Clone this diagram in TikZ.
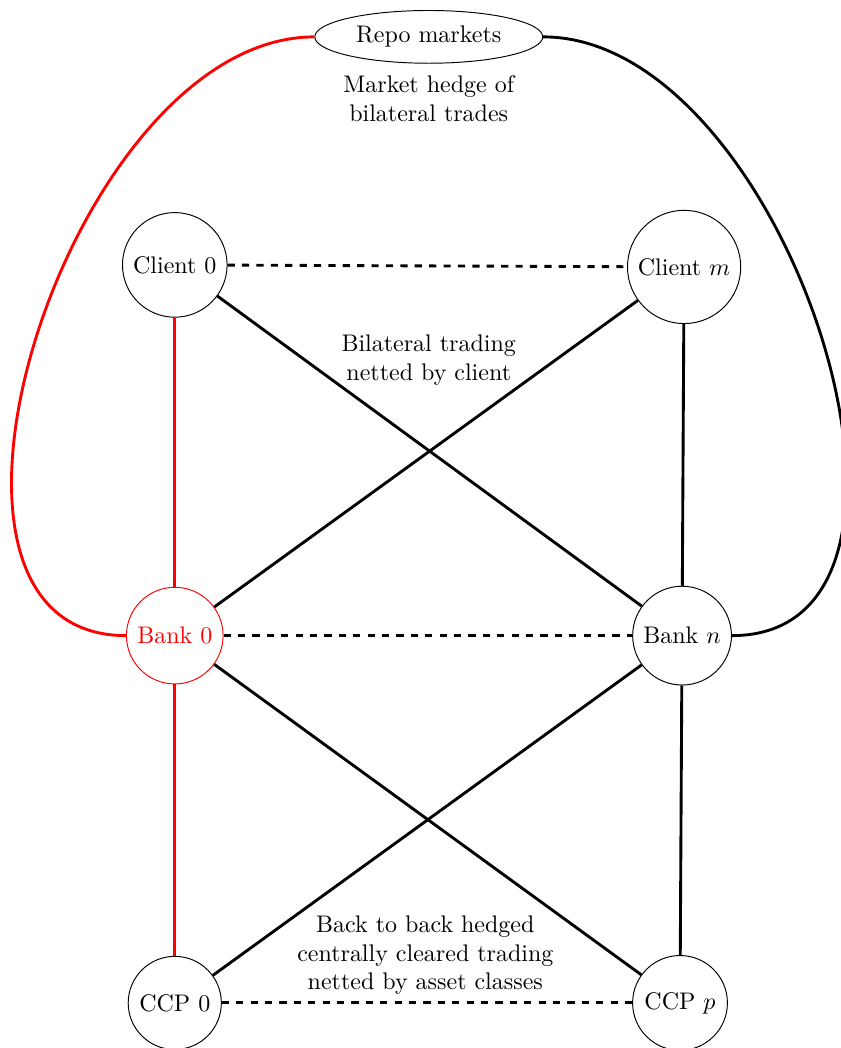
\documentclass[tikz,border=0pt]{standalone}
\usepackage{amsmath,amssymb}
\usepackage{tikz}
\usetikzlibrary{shapes.geometric, arrows.meta, positioning}

\begin{document}
\begin{tikzpicture}
\tikzstyle{party} = [circle, draw]
\tikzstyle{market} = [ellipse, draw]
\tikzstyle{note} = [align=center]
\tikzstyle{link} = [very thick]
\tikzstyle{netted} = [very thick, dashed]
\useasboundingbox (0,0) rectangle (12.31,15.35);
% nodes
\node[market] (repo) at (6.28, 14.81) {Repo markets};
\node[party] (client0) at (2.56, 11.47) {Client 0};
\node[party] (clientm) at (10.02, 11.44) {Client $m$};
\node[party, red] (bank0) at (2.56, 6.04) {Bank 0};
\node[party] (bankn) at (9.99, 6.04) {Bank $n$};
\node[party] (ccp0) at (2.56, 0.66) {CCP 0};
\node[party] (ccpp) at (9.96, 0.66) {CCP $p$};
\node[note] (hedge) at (6.28, 13.91) {Market hedge of\\bilateral trades};
\node[note] (bilat) at (6.28, 10.08) {Bilateral trading\\netted by client};
\node[note] (central) at (6.23, 1.36) {Back to back hedged\\centrally cleared trading\\netted by asset classes};
% connections
\draw[netted] (client0) -- (clientm);
\draw[netted] (bank0) -- (bankn);
\draw[netted] (ccp0) -- (ccpp);
\draw[link, red] (client0) -- (bank0);
\draw[link, red] (bank0) -- (ccp0);
\draw[link] (clientm) -- (bankn);
\draw[link] (bankn) -- (ccpp);
\draw[link] (client0) -- (bankn);
\draw[link] (clientm) -- (bank0);
\draw[link] (bank0) -- (ccpp);
\draw[link] (bankn) -- (ccp0);
\draw[link, red] (repo.west) to[out=180, in=180] (bank0.west);
\draw[link] (repo.east) to[out=0, in=0] (bankn.east);
\end{tikzpicture}
\end{document}
